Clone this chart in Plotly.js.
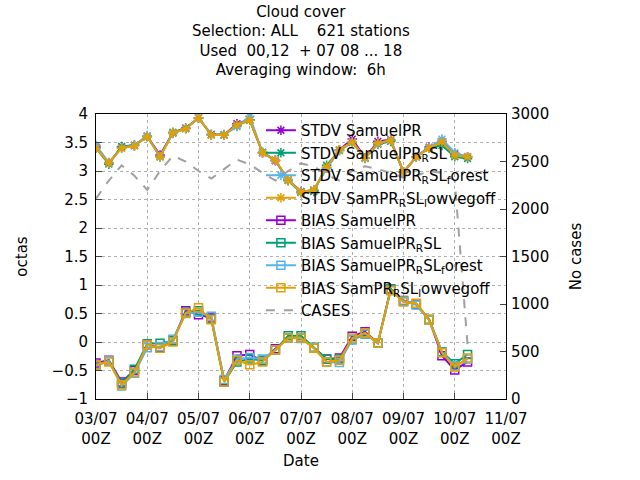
<!DOCTYPE html>
<html>
<head>
<meta charset="utf-8">
<script src="https://cdn.plot.ly/plotly-3.0.1.min.js"></script>
<style>html,body{margin:0;padding:0;background:#fff}#chart{width:640px;height:480px}</style>
</head>
<body>
<div id="chart"></div>
<script>
// 6-hourly steps from 03/07 00Z, x in days
const steps = [0,1,2,3,4,5,6,7,8,9,10,11,12,13,14,15,16,17,18,19,20,21,22,23,24,25,26,27,28,29];
const dayTicks = [0, 1, 2, 3, 4, 5, 6, 7, 8];
const dayLabels = ["03/07<br>00Z", "04/07<br>00Z", "05/07<br>00Z", "06/07<br>00Z", "07/07<br>00Z",
  "08/07<br>00Z", "09/07<br>00Z", "10/07<br>00Z", "11/07<br>00Z"];

const stdvSamuel = [3.42,3.14,3.42,3.45,3.61,3.28,3.67,3.75,3.93,3.64,3.63,3.83,3.90,3.32,3.18,2.84,2.64,2.66,3.05,3.37,3.56,3.23,3.52,3.55,2.98,3.25,3.42,3.52,3.30,3.25];
const stdvRsl = [3.40,3.12,3.43,3.45,3.60,3.25,3.68,3.75,3.93,3.64,3.64,3.80,3.89,3.33,3.19,2.83,2.62,2.64,3.10,3.36,3.50,3.23,3.47,3.52,2.98,3.25,3.40,3.45,3.25,3.22];
const stdvForest = [3.45,3.15,3.40,3.45,3.62,3.25,3.66,3.74,3.93,3.63,3.63,3.78,3.96,3.32,3.19,2.85,2.63,2.67,3.05,3.36,3.51,3.22,3.48,3.54,2.98,3.25,3.41,3.56,3.32,3.25];
const stdvLowveg = [3.40,3.14,3.40,3.44,3.60,3.25,3.67,3.74,3.93,3.63,3.63,3.81,3.89,3.32,3.19,2.84,2.63,2.67,3.07,3.37,3.51,3.23,3.49,3.54,2.98,3.25,3.40,3.51,3.27,3.25];
const biasSamuel = [-0.37,-0.32,-0.70,-0.50,-0.05,-0.10,0.02,0.55,0.48,0.42,-0.68,-0.24,-0.22,-0.33,-0.12,0.07,0.07,-0.10,-0.30,-0.28,0.10,0.18,-0.02,0.93,0.73,0.66,0.39,-0.24,-0.49,-0.35];
const biasRsl = [-0.40,-0.33,-0.73,-0.48,-0.03,-0.02,0.02,0.52,0.55,0.40,-0.70,-0.35,-0.30,-0.32,-0.14,0.11,0.11,-0.09,-0.30,-0.30,0.04,0.14,-0.02,0.93,0.72,0.67,0.40,-0.17,-0.38,-0.22];
const biasForest = [-0.42,-0.33,-0.77,-0.55,-0.10,-0.08,0.05,0.50,0.52,0.45,-0.66,-0.30,-0.27,-0.30,-0.14,0.07,0.06,-0.10,-0.35,-0.36,0.05,0.15,-0.02,0.90,0.72,0.65,0.38,-0.18,-0.42,-0.30];
const biasLowveg = [-0.40,-0.35,-0.75,-0.53,-0.05,-0.11,0.00,0.51,0.60,0.39,-0.70,-0.32,-0.40,-0.35,-0.14,0.07,0.07,-0.11,-0.35,-0.32,0.07,0.16,-0.02,0.91,0.70,0.68,0.39,-0.19,-0.44,-0.28];
const cases = [2110,2300,2460,2350,2200,2400,2560,2500,2400,2320,2420,2520,2470,2380,2300,2400,2480,2450,2360,2300,2400,2450,2420,2380,2330,2350,2400,2380,2300,570];

const xs = steps.map((s) => s * 0.25);
const purple = "#9400d3", green = "#009e73", blue = "#56b4e9", orange = "#e69f00";

function series(name, y, color, symbol) {
  return {
    type: "scatter", mode: "lines+markers", name: name, x: xs, y: y,
    line: { color: color, width: 2 },
    marker: { color: color, symbol: symbol, size: 8, line: { color: color, width: 1.5 } },
  };
}

const traces = [
  series("STDV SamuelPR", stdvSamuel, purple, "asterisk-open"),
  series("STDV SamuelPR<sub>R</sub>SL", stdvRsl, green, "asterisk-open"),
  series("STDV SamuelPR<sub>R</sub>SL<sub>f</sub>orest", stdvForest, blue, "asterisk-open"),
  series("STDV SamPR<sub>R</sub>SL<sub>l</sub>owvegoff", stdvLowveg, orange, "asterisk-open"),
  series("BIAS SamuelPR", biasSamuel, purple, "square-open"),
  series("BIAS SamuelPR<sub>R</sub>SL", biasRsl, green, "square-open"),
  series("BIAS SamuelPR<sub>R</sub>SL<sub>f</sub>orest", biasForest, blue, "square-open"),
  series("BIAS SamPR<sub>R</sub>SL<sub>l</sub>owvegoff", biasLowveg, orange, "square-open"),
  {
    type: "scatter", mode: "lines", name: "CASES", x: xs, y: cases, yaxis: "y2",
    line: { color: "#a0a0a0", width: 2, dash: "dash" },
  },
];

const font = { family: "DejaVu Sans, sans-serif", size: 15, color: "#000" };

const layout = {
  width: 640, height: 480,
  paper_bgcolor: "#fff", plot_bgcolor: "#fff",
  font: font,
  showlegend: true,
  margin: { l: 96, r: 134, t: 114, b: 81 },
  title: {
    text: "Cloud cover<br>Selection: ALL    621 stations<br>Used  00,12  + 07 08 ... 18<br>Averaging window:  6h",
    font: font,
    x: 0.47, xanchor: "center", y: 0.965, yanchor: "top",
  },
  xaxis: {
    range: [0, 8], tickvals: dayTicks, ticktext: dayLabels,
    showgrid: true, gridcolor: "#b0b0b0", griddash: "dot",
    showline: true, linecolor: "#000", mirror: true, ticks: "inside", ticklen: 6,
    ticklabelstandoff: 6, zeroline: false,
    title: { text: "Date", font: font, standoff: 8 },
  },
  yaxis: {
    range: [-1, 4], dtick: 0.5,
    showgrid: true, gridcolor: "#b0b0b0", griddash: "dot",
    showline: true, linecolor: "#000", mirror: true, ticks: "inside", ticklen: 6,
    ticklabelstandoff: 4, zeroline: false,
    title: { text: "octas", font: font, standoff: 20 },
  },
  yaxis2: {
    overlaying: "y", side: "right", range: [0, 3000], dtick: 500,
    showgrid: false, ticks: "inside", ticklen: 6, zeroline: false,
    ticklabelstandoff: 4,
    title: { text: "No cases", font: font, standoff: 22 },
  },
  legend: {
    x: 0.99, xanchor: "right", y: 1.0, yanchor: "top",
    bgcolor: "rgba(0,0,0,0)", font: font, tracegroupgap: 0,
    itemwidth: 30,
  },
};

Plotly.newPlot("chart", traces, layout, { displayModeBar: false });
</script>
</body>
</html>
